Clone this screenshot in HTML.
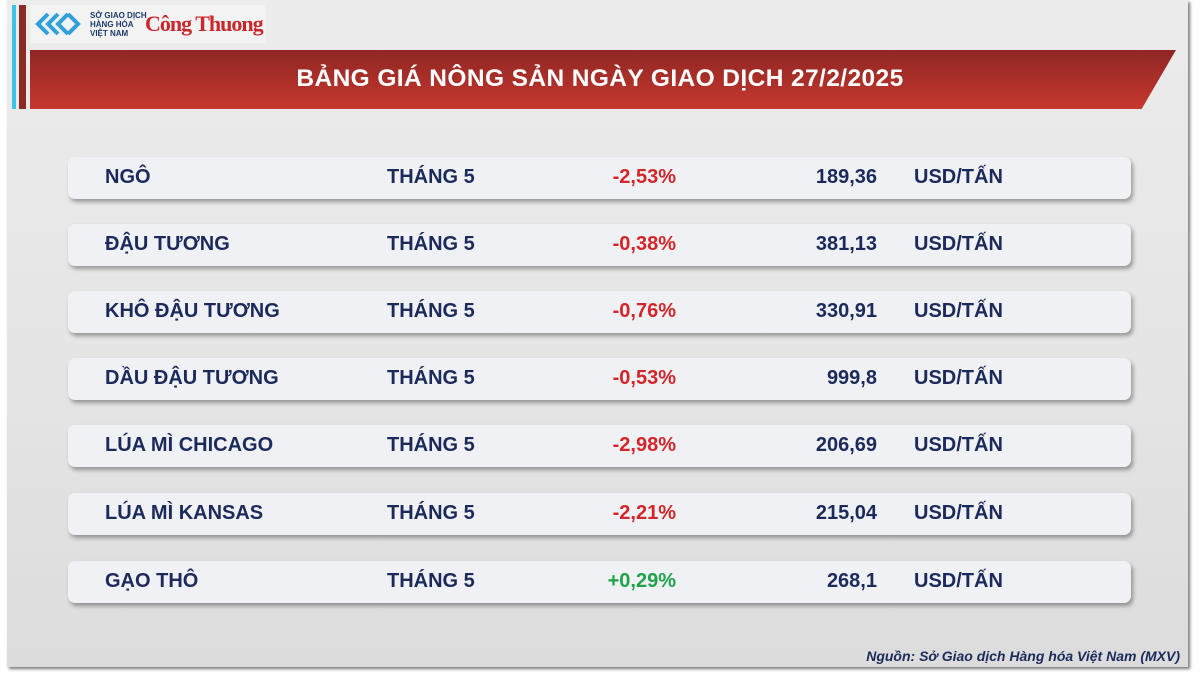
<!DOCTYPE html>
<html><head><meta charset="utf-8"><style>
body{margin:0;width:1200px;height:675px;background:#fff;overflow:hidden;font-family:"Liberation Sans",sans-serif;}
.frame{position:absolute;left:7px;top:0;width:1181px;height:667px;background:linear-gradient(180deg,#ececec 0%,#e4e4e4 60%,#dcdcdc 100%);box-shadow:2px 2px 3px #777;}
.bl{position:absolute;left:12px;top:5px;width:4px;height:104px;background:#3ec3e8}
.rd{position:absolute;left:19px;top:5px;width:7px;height:104px;background:#8c2a26}
.logo{position:absolute;left:30px;top:5px;width:236px;height:38px;background:#f3f3f3}
.banner{position:absolute;left:30px;top:50px;width:1146px;height:59px;background:linear-gradient(180deg,#8e2623,#c7382f);clip-path:polygon(0 0,100% 0,97% 100%,0 100%)}
.title{position:absolute;left:0px;top:65px;width:1200px;text-align:center;color:#fff;font-weight:bold;font-size:24.5px;letter-spacing:0.4px}
.row{position:absolute;left:68px;width:1063px;height:42px;background:#f0f1f4;border-radius:7px;box-shadow:2px 3px 4px rgba(0,0,0,0.35)}
.row span{position:absolute;top:9px;font-weight:bold;font-size:20px;color:#1b2a5a;white-space:nowrap}
.n{left:37px}.m{left:319px}.p{right:455px;color:#d3262a!important}.v{right:254px}.u{left:846px}
.g{color:#1ea34a!important}
.src{position:absolute;right:20px;top:648px;font-style:italic;font-weight:bold;font-size:14px;color:#1b2a5a}
</style></head><body>
<div class="frame"></div>
<div class="bl"></div><div class="rd"></div>
<div class="logo">
<svg width="50" height="30" style="position:absolute;left:4px;top:5px"><g fill="none" stroke="#2fa0d8" stroke-width="4"><path d="M14 4 L4 14 L14 24"/><path d="M24 4 L14 14 L24 24"/><path d="M34 4 L24 14 L34 24"/><path d="M34 4 L44 14 L34 24"/></g></svg>
<div style="position:absolute;left:60px;top:6px;font-size:8px;line-height:9px;font-weight:bold;color:#1b3a6a">SỞ GIAO DỊCH<br>HÀNG HÓA<br>VIỆT NAM</div>
<div style="position:absolute;left:115px;top:6px;font-family:'Liberation Serif',serif;font-weight:bold;font-size:22px;color:#c8282c;letter-spacing:-1px">Công Thuong</div>
</div>
<div class="banner"></div>
<div class="title">BẢNG GIÁ NÔNG SẢN NGÀY GIAO DỊCH 27/2/2025</div>

<div class="row" style="top:157px"><span class="n">NGÔ</span><span class="m">THÁNG 5</span><span class="p">-2,53%</span><span class="v">189,36</span><span class="u">USD/TẤN</span></div>
<div class="row" style="top:224px"><span class="n">ĐẬU TƯƠNG</span><span class="m">THÁNG 5</span><span class="p">-0,38%</span><span class="v">381,13</span><span class="u">USD/TẤN</span></div>
<div class="row" style="top:291px"><span class="n">KHÔ ĐẬU TƯƠNG</span><span class="m">THÁNG 5</span><span class="p">-0,76%</span><span class="v">330,91</span><span class="u">USD/TẤN</span></div>
<div class="row" style="top:358px"><span class="n">DẦU ĐẬU TƯƠNG</span><span class="m">THÁNG 5</span><span class="p">-0,53%</span><span class="v">999,8</span><span class="u">USD/TẤN</span></div>
<div class="row" style="top:425px"><span class="n">LÚA MÌ CHICAGO</span><span class="m">THÁNG 5</span><span class="p">-2,98%</span><span class="v">206,69</span><span class="u">USD/TẤN</span></div>
<div class="row" style="top:493px"><span class="n">LÚA MÌ KANSAS</span><span class="m">THÁNG 5</span><span class="p">-2,21%</span><span class="v">215,04</span><span class="u">USD/TẤN</span></div>
<div class="row" style="top:561px"><span class="n">GẠO THÔ</span><span class="m">THÁNG 5</span><span class="p g">+0,29%</span><span class="v">268,1</span><span class="u">USD/TẤN</span></div>
<div class="src">Nguồn: Sở Giao dịch Hàng hóa Việt Nam (MXV)</div>
</body></html>
